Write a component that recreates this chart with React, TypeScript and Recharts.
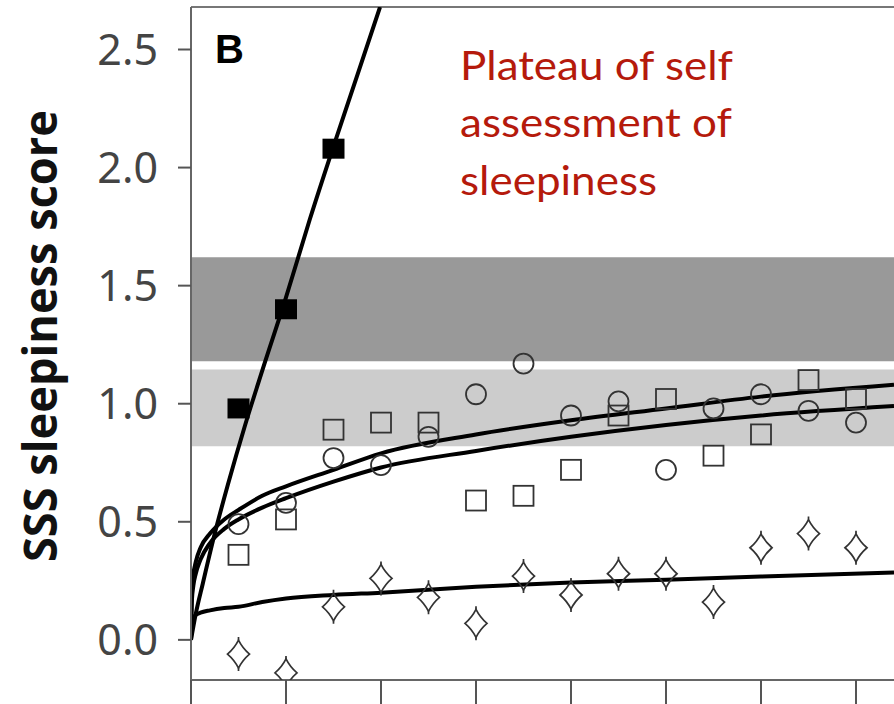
import React from "react";
import { ComposedChart, Line, Scatter, XAxis, YAxis, ReferenceArea, ReferenceLine } from "recharts";

// day of test (x) and mean SSS score per group
const days = [1, 2, 3, 4, 5, 6, 7, 8, 9, 10, 11, 12, 13, 14];
const circleScores = [0.49, 0.58, 0.77, 0.74, 0.86, 1.04, 1.17, 0.95, 1.01, 0.72, 0.98, 1.04, 0.97, 0.92];
const squareScores = [0.36, 0.51, 0.89, 0.92, 0.92, 0.59, 0.61, 0.72, 0.95, 1.02, 0.78, 0.87, 1.1, 1.02];
const diamondScores = [-0.06, -0.14, 0.14, 0.26, 0.18, 0.07, 0.27, 0.19, 0.28, 0.28, 0.16, 0.39, 0.45, 0.39];
const filledDays = [1, 2, 3];
const filledScores = [0.98, 1.4, 2.08];

// fitted curves
const steepX = [0, 0.1, 0.25, 0.5, 0.78, 1.14, 1.5, 2, 2.5, 3, 3.5, 3.98];
const steepY = [0, 0.11, 0.24, 0.45, 0.66, 0.91, 1.14, 1.45, 1.78, 2.09, 2.39, 2.68];
const fitX = [0, 0.02, 0.05, 0.1, 0.2, 0.4, 0.7, 1, 1.5, 2, 3, 4, 6, 8, 10, 12, 14.8];
const circleFit = [0, 0.23, 0.28, 0.33, 0.39, 0.45, 0.51, 0.55, 0.61, 0.65, 0.72, 0.79, 0.87, 0.93, 0.98, 1.03, 1.08];
const squareFit = [0, 0.17, 0.23, 0.28, 0.34, 0.41, 0.47, 0.51, 0.56, 0.6, 0.67, 0.73, 0.8, 0.86, 0.91, 0.95, 0.99];
const diamondFit = [0, 0.085, 0.095, 0.105, 0.115, 0.125, 0.135, 0.14, 0.16, 0.175, 0.19, 0.2, 0.225, 0.243, 0.255, 0.268, 0.285];

const yTicks = [0, 0.5, 1, 1.5, 2, 2.5];
const xTicks = [0, 2, 4, 6, 8, 10, 12, 14];

const toPts = (xs: number[], ys: number[]) => xs.map((x, i) => ({ x, y: ys[i] }));

const markStroke = "#333";

const OpenCircle = ({ cx, cy }: any) => <circle cx={cx} cy={cy} r={10} fill="none" stroke={markStroke} strokeWidth={1.8} />;
const OpenSquare = ({ cx, cy }: any) => (
  <rect x={cx - 10} y={cy - 10} width={20} height={20} fill="none" stroke={markStroke} strokeWidth={1.8} />
);
const FilledSquare = ({ cx, cy }: any) => <rect x={cx - 11} y={cy - 10} width={22} height={20} fill="#000" />;
const Diamond = ({ cx, cy }: any) => (
  <g fill="none" stroke={markStroke} strokeWidth={1.7}>
    <path
      d={`M${cx},${cy - 14} Q${cx + 4},${cy - 6} ${cx + 11},${cy} Q${cx + 4},${cy + 6} ${cx},${cy + 14} Q${cx - 4},${cy + 6} ${cx - 11},${cy} Q${cx - 4},${cy - 6} ${cx},${cy - 14} Z`}
    />
    <path d={`M${cx},${cy - 17} V${cy - 14} M${cx},${cy + 14} V${cy + 17}`} />
  </g>
);

export default function App() {
  return (
    <div style={{ position: "absolute", left: 0, top: 0, width: 894, height: 704, background: "#fff" }}>
      <ComposedChart width={894} height={704} margin={{ top: 7, right: 0, bottom: 0, left: 0 }}>
        <XAxis
          type="number"
          dataKey="x"
          domain={[0, 14.8]}
          ticks={xTicks}
          allowDataOverflow
          height={24}
          tickSize={24}
          tickFormatter={() => ""}
          axisLine={{ stroke: "#666", strokeWidth: 2 }}
          tickLine={{ stroke: "#555", strokeWidth: 2 }}
        />
        <YAxis
          type="number"
          domain={[-0.17, 2.68]}
          ticks={yTicks}
          allowDataOverflow
          width={191}
          tickSize={13}
          tickMargin={20}
          tickFormatter={(v: number) => v.toFixed(1)}
          tick={{ fill: "#444", fontSize: 43, fontFamily: "Noto Sans" }}
          axisLine={{ stroke: "#666", strokeWidth: 2 }}
          tickLine={{ stroke: "#555", strokeWidth: 2 }}
        />
        <ReferenceArea y1={1.18} y2={1.62} fill="#999" fillOpacity={1} stroke="none" />
        <ReferenceArea y1={0.82} y2={1.145} fill="#ccc" fillOpacity={1} stroke="none" />
        <ReferenceLine y={2.68} stroke="#777" strokeWidth={2} />
        <Scatter data={toPts(days, circleScores)} dataKey="y" shape={OpenCircle} isAnimationActive={false} />
        <Scatter data={toPts(days, squareScores)} dataKey="y" shape={OpenSquare} isAnimationActive={false} />
        <Scatter data={toPts(days, diamondScores)} dataKey="y" shape={Diamond} isAnimationActive={false} />
        <Line data={toPts(steepX, steepY)} dataKey="y" type="monotone" stroke="#000" strokeWidth={4} dot={false} isAnimationActive={false} />
        <Line data={toPts(fitX, circleFit)} dataKey="y" type="monotone" stroke="#000" strokeWidth={4} dot={false} isAnimationActive={false} />
        <Line data={toPts(fitX, squareFit)} dataKey="y" type="monotone" stroke="#000" strokeWidth={4} dot={false} isAnimationActive={false} />
        <Line data={toPts(fitX, diamondFit)} dataKey="y" type="monotone" stroke="#000" strokeWidth={4} dot={false} isAnimationActive={false} />
        <Scatter data={toPts(filledDays, filledScores)} dataKey="y" shape={FilledSquare} isAnimationActive={false} />
      </ComposedChart>
      <svg width={894} height={704} style={{ position: "absolute", left: 0, top: 0, pointerEvents: "none" }}>
        <text
          transform="translate(57,336) rotate(-90)"
          textAnchor="middle"
          fontFamily="Open Sans"
          fontWeight="bold"
          fontSize={46}
          fill="#111"
          textLength={452}
          lengthAdjust="spacingAndGlyphs"
        >
          SSS sleepiness score
        </text>
        <text x={215} y={63} fontFamily="Liberation Sans" fontWeight="bold" fontSize={40} fill="#000">
          B
        </text>
        <g fontFamily="Lato" fontSize={40} fill="#B51A0C">
          <text x={460} y={80} textLength={273} lengthAdjust="spacingAndGlyphs">Plateau of self</text>
          <text x={460} y={137} textLength={272} lengthAdjust="spacingAndGlyphs">assessment of</text>
          <text x={460} y={195} textLength={197} lengthAdjust="spacingAndGlyphs">sleepiness</text>
        </g>
      </svg>
    </div>
  );
}
